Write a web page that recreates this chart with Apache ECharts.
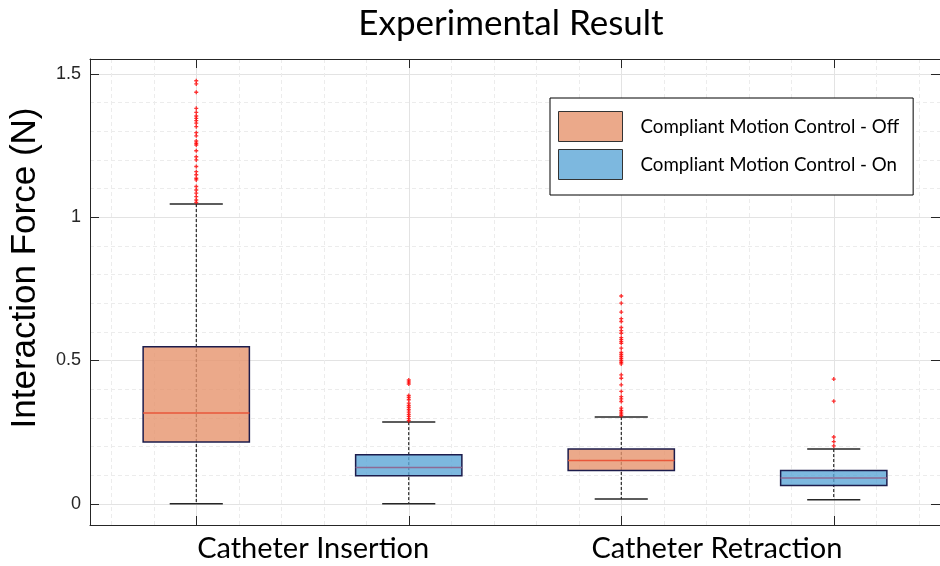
<!DOCTYPE html>
<html>
<head>
<meta charset="utf-8">
<title>Experimental Result</title>
<script src="https://cdn.jsdelivr.net/npm/echarts@6/dist/echarts.min.js"></script>
<style>
  html, body { margin: 0; padding: 0; background: #fff; }
  #chart { width: 940px; height: 566px; }
</style>
</head>
<body>
<div id="chart"></div>
<script>
// Group labels and where they sit on the x axis
var categories = ['Catheter Insertion', 'Catheter Retraction'];
var categoryPositions = [1.55, 3.45];

// Box positions on the x axis for each condition
var offPositions = [1, 3];
var onPositions = [2, 4];

// Box statistics: [lower whisker, Q1, median, Q3, upper whisker]
var offStats = [
  [0.000, 0.216, 0.317, 0.548, 1.046],
  [0.017, 0.116, 0.151, 0.191, 0.303]
];
var onStats = [
  [0.000, 0.098, 0.127, 0.171, 0.285],
  [0.014, 0.064, 0.090, 0.116, 0.191]
];

// Outliers for each box
var offInsertionOutliers = [1.476, 1.465, 1.436, 1.380, 1.366, 1.353, 1.345, 1.337, 1.328, 1.316,
  1.295, 1.284, 1.266, 1.258, 1.252, 1.232, 1.211, 1.200, 1.177, 1.159, 1.148, 1.136, 1.130,
  1.107, 1.095, 1.084, 1.072, 1.060, 1.052];
var onInsertionOutliers = [0.432, 0.425, 0.418, 0.378, 0.371, 0.363, 0.351, 0.343, 0.336, 0.328,
  0.320, 0.312, 0.305, 0.297, 0.290];
var offRetractionOutliers = [0.725, 0.700, 0.669, 0.646, 0.636, 0.615, 0.604, 0.595, 0.580, 0.573,
  0.566, 0.560, 0.543, 0.528, 0.521, 0.514, 0.507, 0.500, 0.494, 0.488, 0.450, 0.438, 0.415,
  0.392, 0.374, 0.366, 0.357, 0.334, 0.326, 0.320, 0.314, 0.308];
var onRetractionOutliers = [0.435, 0.358, 0.233, 0.217, 0.202];

// Y axis tick labels
var yTickValues = [0, 0.5, 1, 1.5];

var seriesNames = ['Compliant Motion Control - Off', 'Compliant Motion Control - On'];

// ---- styling ----
var AXIS_COLOR = '#262626';
var MAJOR_GRID = '#e3e3e3';
var MINOR_GRID = '#ececec';
var OFF_SWATCH = '#eba98a';
var ON_SWATCH = '#7db8df';
var OFF_FILL = '#e6946d';
var ON_FILL = '#5ca6d7';
var OFF_MEDIAN = '#e9573a';
var ON_MEDIAN = '#8d6a95';
var BOX_EDGE = '#1c1c4c';
var X_MIN = 0.5, X_MAX = 4.5;
var Y_MIN = -0.074, Y_MAX = 1.552;

// minor grid positions (every 0.2 on x, every 0.1 on y, skipping the major lines)
var xMinor = [];
for (var i = 3; i <= 22; i++) { if (i % 5 !== 0) xMinor.push(Math.round(i * 2) / 10); }
var yMinor = [];
for (var j = 1; j <= 15; j++) { if (j % 5 !== 0) yMinor.push(j / 10); }
var xMajor = offPositions.concat(onPositions).sort();

function boxData(positions, stats) {
  return positions.map(function (p, k) { return [p].concat(stats[k]); });
}

function makeRenderer(fill, median) {
  return function (params, api) {
    var x = api.value(0);
    var lo = api.coord([x, api.value(1)]);
    var q1 = api.coord([x, api.value(2)]);
    var md = api.coord([x, api.value(3)]);
    var q3 = api.coord([x, api.value(4)]);
    var hi = api.coord([x, api.value(5)]);
    var boxW = api.size([0.5, 0])[0];
    var capW = api.size([0.25, 0])[0];
    var cx = lo[0];
    return {
      type: 'group',
      children: [
        { type: 'line', shape: { x1: cx, y1: hi[1], x2: cx, y2: lo[1] },
          style: { stroke: '#000', lineWidth: 1, lineDash: [3, 2] } },
        { type: 'rect', shape: { x: cx - boxW / 2, y: q3[1], width: boxW, height: q1[1] - q3[1] },
          style: { fill: fill, opacity: 0.8, stroke: null } },
        { type: 'rect', shape: { x: cx - boxW / 2, y: q3[1], width: boxW, height: q1[1] - q3[1] },
          style: { fill: null, stroke: BOX_EDGE, lineWidth: 1.5 } },
        { type: 'line', shape: { x1: cx - boxW / 2, y1: md[1], x2: cx + boxW / 2, y2: md[1] },
          style: { stroke: median, lineWidth: 1.5 } },
        { type: 'line', shape: { x1: cx - capW / 2, y1: hi[1], x2: cx + capW / 2, y2: hi[1] },
          style: { stroke: AXIS_COLOR, lineWidth: 1.5 } },
        { type: 'line', shape: { x1: cx - capW / 2, y1: lo[1], x2: cx + capW / 2, y2: lo[1] },
          style: { stroke: AXIS_COLOR, lineWidth: 1.5 } }
      ]
    };
  };
}

function outlierPoints(pos, values) {
  return values.map(function (v) { return [pos, v]; });
}
var outliers = []
  .concat(outlierPoints(offPositions[0], offInsertionOutliers))
  .concat(outlierPoints(onPositions[0], onInsertionOutliers))
  .concat(outlierPoints(offPositions[1], offRetractionOutliers))
  .concat(outlierPoints(onPositions[1], onRetractionOutliers));

var PLUS = 'path://M1,0H2V1H3V2H2V3H1V2H0V1H1Z';

function baseX(extra) {
  return Object.assign({
    type: 'value', min: X_MIN, max: X_MAX, gridIndex: 0,
    axisLine: { show: false }, axisTick: { show: false }, axisLabel: { show: false },
    splitLine: { show: false }
  }, extra);
}
function baseY(extra) {
  return Object.assign({
    type: 'value', min: Y_MIN, max: Y_MAX, gridIndex: 0,
    axisLine: { show: false }, axisTick: { show: false }, axisLabel: { show: false },
    splitLine: { show: false }
  }, extra);
}

var chart = echarts.init(document.getElementById('chart'), null, { renderer: 'canvas' });
chart.setOption({
  animation: false,
  backgroundColor: '#fff',
  title: {
    text: 'Experimental Result',
    left: 506, top: 1, textAlign: 'center',
    textStyle: { fontFamily: 'Lato', fontSize: 35, fontWeight: 'normal', color: '#000' }
  },
  grid: { left: 90, right: -3, top: 59, bottom: 41, containLabel: false },
  legend: {
    orient: 'vertical', left: 550, top: 98,
    padding: [13, 14, 15, 8], itemGap: 7, itemWidth: 64, itemHeight: 30,
    backgroundColor: '#fff', borderColor: '#000', borderWidth: 1, borderRadius: 0,
    selectedMode: false,
    textStyle: { fontFamily: 'Lato', fontSize: 18.7, color: '#000', padding: [0, 0, 0, 13] },
    data: [
      { name: seriesNames[0], icon: 'rect', itemStyle: { color: OFF_SWATCH, borderColor: '#333', borderWidth: 1 } },
      { name: seriesNames[1], icon: 'rect', itemStyle: { color: ON_SWATCH, borderColor: '#333', borderWidth: 1 } }
    ]
  },
  xAxis: [
    // minor dashed grid
    baseX({ position: 'bottom', axisTick: { show: false, customValues: xMinor },
      splitLine: { show: true, lineStyle: { color: MINOR_GRID, type: [4, 3], width: 1 } } }),
    // major grid, ticks and group labels
    baseX({
      position: 'bottom',
      axisLine: { show: true, onZero: false, lineStyle: { color: AXIS_COLOR, width: 1 } },
      axisTick: { show: true, inside: true, length: 9, customValues: xMajor, lineStyle: { color: AXIS_COLOR } },
      axisLabel: {
        show: true, customValues: categoryPositions, margin: 9,
        fontFamily: 'Lato', fontSize: 29, color: '#000',
        formatter: function (v) {
          var k = categoryPositions.indexOf(v);
          return k >= 0 ? categories[k] : '';
        }
      },
      splitLine: { show: true, lineStyle: { color: MAJOR_GRID, width: 1 } }
    }),
    // top frame
    baseX({
      position: 'top',
      axisLine: { show: true, onZero: false, lineStyle: { color: AXIS_COLOR, width: 1 } },
      axisTick: { show: true, inside: true, length: 9, customValues: xMajor, lineStyle: { color: AXIS_COLOR } }
    })
  ],
  yAxis: [
    baseY({ position: 'left', axisTick: { show: false, customValues: yMinor },
      splitLine: { show: true, lineStyle: { color: MINOR_GRID, type: [4, 3], width: 1 } } }),
    baseY({
      position: 'left',
      name: 'Interaction Force (N)', nameLocation: 'middle', nameGap: 47,
      nameTextStyle: { fontFamily: 'Liberation Sans', fontSize: 35, color: '#000', padding: [0, 0, 0, 48] },
      axisLine: { show: true, onZero: false, lineStyle: { color: AXIS_COLOR, width: 1 } },
      axisTick: { show: true, inside: true, length: 9, customValues: yTickValues, lineStyle: { color: AXIS_COLOR } },
      axisLabel: { show: true, customValues: yTickValues, margin: 9,
        fontFamily: 'Liberation Sans', fontSize: 18, color: AXIS_COLOR },
      splitLine: { show: true, lineStyle: { color: MAJOR_GRID, width: 1 } }
    }),
    baseY({
      position: 'right',
      axisLine: { show: true, onZero: false, lineStyle: { color: AXIS_COLOR, width: 1 } },
      axisTick: { show: true, inside: true, length: 9, customValues: yTickValues, lineStyle: { color: AXIS_COLOR } }
    })
  ],
  series: [
    {
      name: seriesNames[0], type: 'custom', xAxisIndex: 1, yAxisIndex: 1,
      renderItem: makeRenderer(OFF_FILL, OFF_MEDIAN),
      encode: { x: 0, y: [1, 2, 3, 4, 5] },
      itemStyle: { color: OFF_SWATCH },
      data: boxData(offPositions, offStats), z: 3
    },
    {
      name: seriesNames[1], type: 'custom', xAxisIndex: 1, yAxisIndex: 1,
      renderItem: makeRenderer(ON_FILL, ON_MEDIAN),
      encode: { x: 0, y: [1, 2, 3, 4, 5] },
      itemStyle: { color: ON_SWATCH },
      data: boxData(onPositions, onStats), z: 3
    },
    {
      name: 'Outliers', type: 'scatter', xAxisIndex: 1, yAxisIndex: 1,
      symbol: PLUS, symbolSize: 4, itemStyle: { color: '#ff0000' },
      data: outliers, z: 4, silent: true
    }
  ]
});
</script>
</body>
</html>
